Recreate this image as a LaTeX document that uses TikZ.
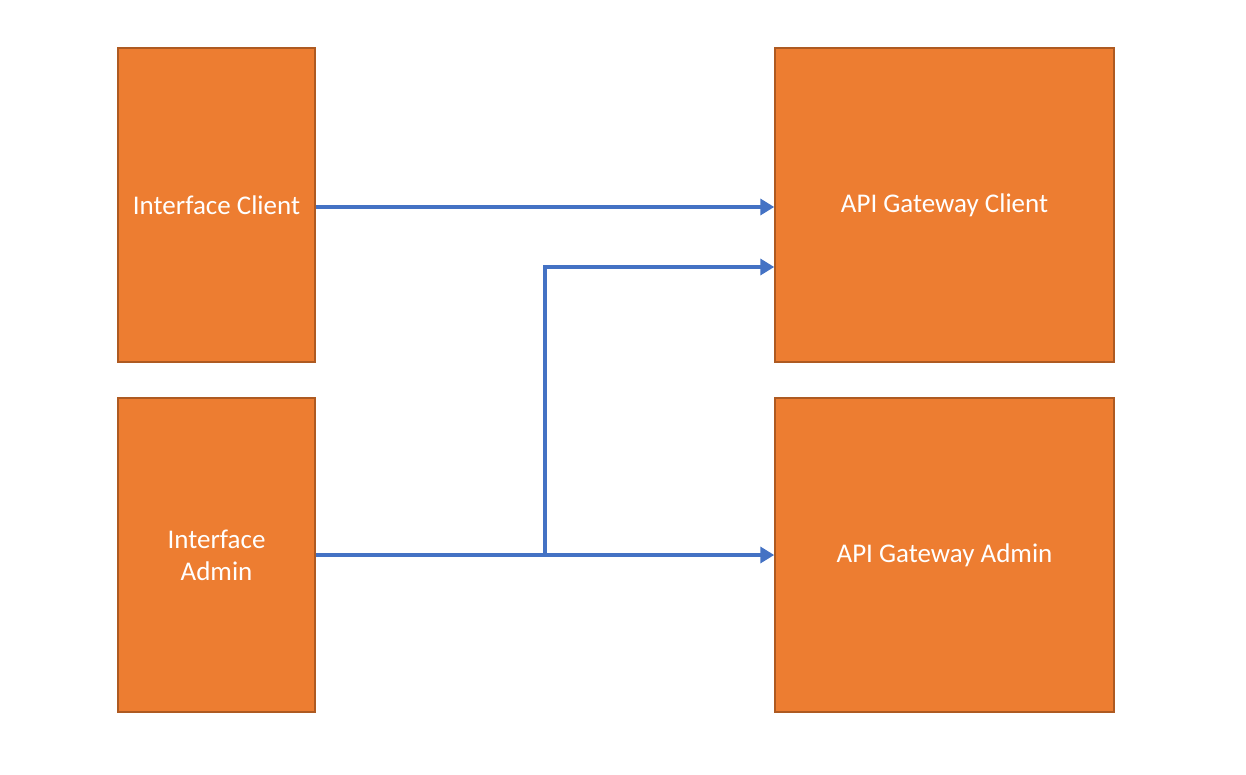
\documentclass[tikz,border=0pt]{standalone}
\usepackage{fontspec}
\setmainfont{Carlito}
\usetikzlibrary{arrows.meta}
\definecolor{boxfill}{HTML}{ED7D31}
\definecolor{boxedge}{HTML}{AE5A21}
\definecolor{linkblue}{HTML}{4472C4}
\begin{document}
\begin{tikzpicture}[x=1pt,y=-1pt,
  block/.style={draw=boxedge,line width=1.5pt,fill=boxfill,text=white,
    font=\fontsize{27}{32}\selectfont,align=center,inner sep=0pt},
  link/.style={draw=linkblue,line width=3.5pt,
    -{Triangle[length=14pt,width=16pt]}}]
\useasboundingbox (0,0) rectangle (1246,775);
\fill[white] (0,0) rectangle (1246,775);
\node[block,minimum width=197pt,minimum height=314pt] (ic) at (216.5,205) {Interface Client};
\node[block,minimum width=197pt,minimum height=314pt] (ia) at (216.5,555) {Interface\\Admin};
\node[block,minimum width=339pt,minimum height=314pt] (gc) at (944.5,205) {API Gateway Client};
\node[block,minimum width=339pt,minimum height=314pt] (ga) at (944.5,555) {API Gateway Admin};
\coordinate (j) at (545,555);
\draw[link] (ic.east |- 0,207) -- (gc.west |- 0,207);
\draw[link] (ia.east) -- (ga.west);
\draw[link,shorten <=-1.75pt] (j) -- (545,267) -- (gc.west |- 0,267);
\end{tikzpicture}
\end{document}
